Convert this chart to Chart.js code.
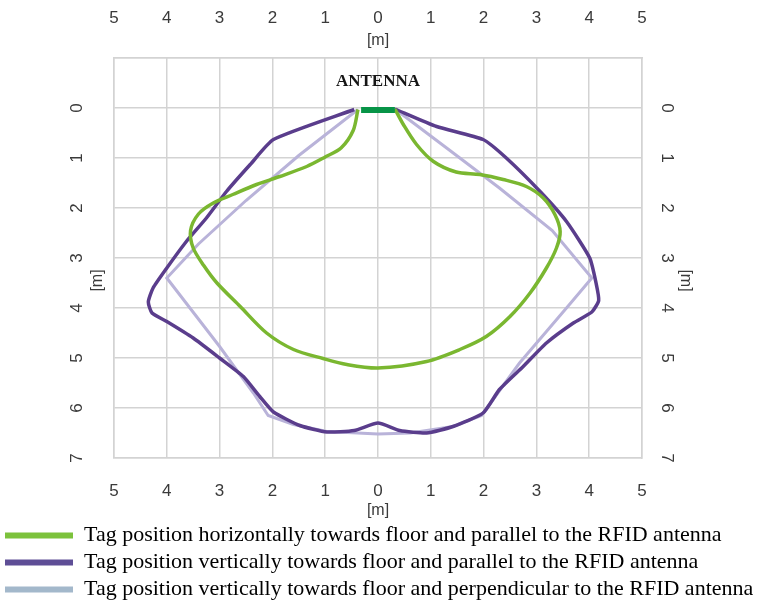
<!DOCTYPE html>
<html>
<head>
<meta charset="utf-8">
<script src="https://cdn.jsdelivr.net/npm/chart.js@4.4.1/dist/chart.umd.min.js"></script>
<style>
  html, body { margin: 0; padding: 0; background: #fff; }
</style>
</head>
<body>
<canvas id="chart" width="757" height="600"></canvas>
<script>
// readings in metres: x = sideways from the antenna, y = distance below it
const yTicks = [0, 1, 2, 3, 4, 5, 6, 7];

const seriesLabels = [
  "Tag position horizontally towards floor and parallel to the RFID antenna",
  "Tag position vertically towards floor and parallel to the RFID antenna",
  "Tag position vertically towards floor and perpendicular to the RFID antenna"
];

const horizParallel = [
  {x: -0.38, y: 0.03}, {x: -0.47, y: 0.45}, {x: -0.7, y: 0.8}, {x: -1.0, y: 0.98},
  {x: -1.35, y: 1.17}, {x: -1.86, y: 1.37}, {x: -2.3, y: 1.53}, {x: -2.75, y: 1.73},
  {x: -3.12, y: 1.9}, {x: -3.4, y: 2.12}, {x: -3.55, y: 2.45}, {x: -3.5, y: 2.8},
  {x: -3.3, y: 3.15}, {x: -3.05, y: 3.5}, {x: -2.61, y: 3.97}, {x: -2.11, y: 4.5},
  {x: -1.6, y: 4.83}, {x: -1.04, y: 5.01}, {x: -0.59, y: 5.13}, {x: 0.0, y: 5.2},
  {x: 0.92, y: 5.07}, {x: 1.55, y: 4.83}, {x: 2.05, y: 4.57}, {x: 2.5, y: 4.17},
  {x: 2.88, y: 3.7}, {x: 3.19, y: 3.2}, {x: 3.38, y: 2.8}, {x: 3.45, y: 2.47},
  {x: 3.35, y: 2.13}, {x: 3.13, y: 1.8}, {x: 2.81, y: 1.57}, {x: 2.37, y: 1.43},
  {x: 1.93, y: 1.33}, {x: 1.48, y: 1.28}, {x: 1.05, y: 1.07}, {x: 0.73, y: 0.73},
  {x: 0.48, y: 0.33}, {x: 0.32, y: 0.02}
];

const vertParallel = [
  {x: -0.45, y: 0.03}, {x: -1.98, y: 0.63}, {x: -2.42, y: 1.13}, {x: -2.87, y: 1.67},
  {x: -3.25, y: 2.2}, {x: -3.63, y: 2.67}, {x: -4.0, y: 3.2}, {x: -4.26, y: 3.6},
  {x: -4.35, y: 3.88}, {x: -4.28, y: 4.1}, {x: -4.0, y: 4.27}, {x: -3.5, y: 4.6},
  {x: -3.0, y: 5.0}, {x: -2.55, y: 5.37}, {x: -2.24, y: 5.77}, {x: -1.98, y: 6.08},
  {x: -1.48, y: 6.35}, {x: -0.97, y: 6.48}, {x: -0.45, y: 6.45}, {x: 0.0, y: 6.3},
  {x: 0.41, y: 6.45}, {x: 0.92, y: 6.5}, {x: 1.42, y: 6.37}, {x: 1.99, y: 6.1},
  {x: 2.3, y: 5.63}, {x: 2.75, y: 5.17}, {x: 3.19, y: 4.7}, {x: 3.7, y: 4.3},
  {x: 4.05, y: 4.08}, {x: 4.18, y: 3.85}, {x: 4.13, y: 3.5}, {x: 4.01, y: 3.0},
  {x: 3.57, y: 2.27}, {x: 3.07, y: 1.67}, {x: 2.43, y: 1.0}, {x: 1.99, y: 0.63},
  {x: 1.11, y: 0.37}, {x: 0.32, y: 0.02}
];

const vertPerpendicular = [
  {x: -0.38, y: 0.03}, {x: -1.5, y: 0.95}, {x: -2.5, y: 1.85}, {x: -3.4, y: 2.72},
  {x: -4.0, y: 3.4}, {x: -3.0, y: 4.77}, {x: -2.36, y: 5.7}, {x: -2.08, y: 6.15},
  {x: -1.6, y: 6.33}, {x: -0.97, y: 6.47}, {x: 0.0, y: 6.52}, {x: 0.61, y: 6.5},
  {x: 1.42, y: 6.37}, {x: 1.96, y: 6.15}, {x: 2.18, y: 5.83}, {x: 2.68, y: 5.1},
  {x: 3.19, y: 4.47}, {x: 3.65, y: 3.9}, {x: 4.05, y: 3.4}, {x: 3.3, y: 2.45},
  {x: 2.3, y: 1.6}, {x: 1.3, y: 0.8}, {x: 0.32, y: 0.02}
];

const antenna = [{x: -0.32, y: 0.04}, {x: 0.32, y: 0.04}];

const lineColors = ['#7ab730', '#5a3d8c', '#b9b3d9'];
const legendColors = ['#7cc23c', '#5e4e96', '#a3b8cb'];

const gridColor = '#d3d3d3';
const tickSize = 17;
const tickFont = {family: '"Liberation Sans", Arial, sans-serif', size: tickSize};
const tickColor = '#3a3a3a';

function rotText(ctx, text, x, y, angle) {
  ctx.save();
  ctx.translate(x, y);
  ctx.rotate(angle);
  ctx.fillText(text, 0, 0);
  ctx.restore();
}

// y tick labels, the four "[m]" titles and the ANTENNA caption
const axisText = {
  id: 'axisText',
  afterLayout(chart) {
    // push the legend rows down to the bottom edge
    chart.legend.top += 10.5;
    chart.legend.bottom += 10.5;
  },
  afterDraw(chart) {
    const {ctx, chartArea, scales: {x, y}} = chart;
    ctx.save();
    ctx.font = tickSize + 'px "Liberation Sans", Arial, sans-serif';
    ctx.fillStyle = tickColor;
    ctx.textAlign = 'center';
    ctx.textBaseline = 'middle';
    yTicks.forEach(v => {
      const py = y.getPixelForValue(v);
      rotText(ctx, String(v), chartArea.left - 37, py, -Math.PI / 2);
      rotText(ctx, String(v), chartArea.right + 25, py, Math.PI / 2);
    });
    const cx = x.getPixelForValue(0);
    const my = y.getPixelForValue(3.45);
    ctx.font = '16px "Liberation Sans", Arial, sans-serif';
    ctx.fillText('[m]', cx, chartArea.top - 17);
    ctx.fillText('[m]', cx, chartArea.bottom + 53);
    rotText(ctx, '[m]', chartArea.left - 16, my, -Math.PI / 2);
    rotText(ctx, '[m]', chartArea.right + 43, my, Math.PI / 2);

    ctx.font = 'bold 17px "Liberation Serif", "Times New Roman", serif';
    ctx.fillStyle = '#151515';
    ctx.fillText('ANTENNA', cx, y.getPixelForValue(-0.52));
    ctx.restore();
  }
};

new Chart(document.getElementById('chart'), {
  type: 'scatter',
  data: {
    datasets: [
      {label: seriesLabels[0], data: horizParallel, borderColor: lineColors[0], borderWidth: 3.5, tension: 0.3},
      {label: seriesLabels[1], data: vertParallel, borderColor: lineColors[1], borderWidth: 3.5, tension: 0.18},
      {label: seriesLabels[2], data: vertPerpendicular, borderColor: lineColors[2], borderWidth: 3, tension: 0},
      {label: 'antenna', data: antenna, borderColor: '#079447', borderWidth: 6, borderCapStyle: 'butt', order: -1}
    ].map(ds => Object.assign({showLine: true, pointRadius: 0, pointHoverRadius: 0, fill: false}, ds))
  },
  options: {
    responsive: false,
    animation: false,
    layout: {padding: 0},
    scales: {
      x: {
        type: 'linear', position: 'bottom', min: -5, max: 5,
        ticks: {stepSize: 1, padding: 23, font: tickFont, color: tickColor, callback: v => Math.abs(v)},
        grid: {color: gridColor, lineWidth: 1.5, drawTicks: false},
        border: {color: gridColor, width: 1.5},
        afterFit: s => { s.height = 51; }
      },
      x2: {
        type: 'linear', position: 'top', min: -5, max: 5,
        ticks: {stepSize: 1, padding: 29, font: tickFont, color: tickColor, callback: v => Math.abs(v)},
        grid: {display: false, drawTicks: false},
        border: {color: gridColor, width: 1.5},
        afterFit: s => { s.height = 58; }
      },
      y: {
        type: 'linear', position: 'left', min: -1, max: 7, reverse: true,
        ticks: {stepSize: 1, display: false},
        grid: {color: gridColor, lineWidth: 1.5, drawTicks: false},
        border: {color: gridColor, width: 1.5},
        afterFit: s => { s.width = 114; }
      },
      y2: {
        type: 'linear', position: 'right', min: -1, max: 7, reverse: true,
        ticks: {stepSize: 1, display: false},
        grid: {display: false, drawTicks: false},
        border: {color: gridColor, width: 1.5},
        afterFit: s => { s.width = 115; }
      }
    },
    plugins: {
      tooltip: {enabled: false},
      legend: {
        position: 'bottom',
        align: 'start',
        labels: {
          boxWidth: 68,
          boxHeight: 6,
          padding: 5,
          color: '#000',
          font: {family: '"Liberation Serif", "Times New Roman", serif', size: 22},
          generateLabels: () => seriesLabels.map((text, i) => ({
            text: text,
            fillStyle: legendColors[i],
            strokeStyle: legendColors[i],
            lineWidth: 0,
            hidden: false,
            datasetIndex: i
          }))
        }
      }
    }
  },
  plugins: [axisText]
});
</script>
</body>
</html>
